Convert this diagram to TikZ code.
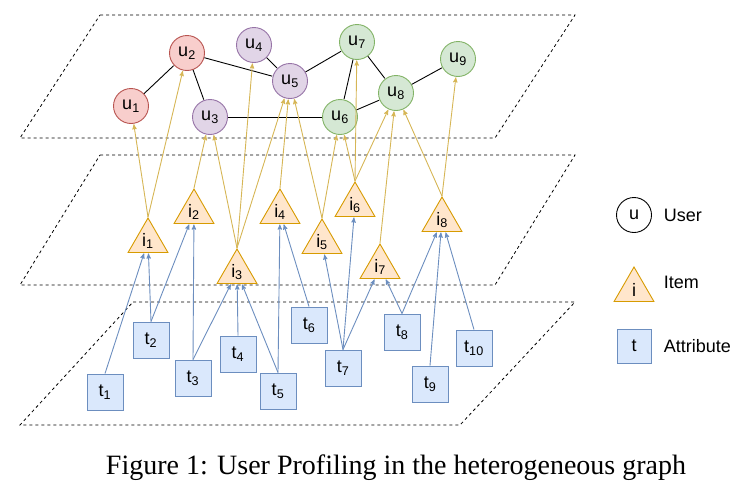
\documentclass[tikz,border=0pt]{standalone}
\usepackage{fontspec}
\setmainfont{Liberation Serif}
\newfontfamily\lblfont{Liberation Sans}
\usetikzlibrary{arrows,shapes.geometric}
\definecolor{redf}{HTML}{F8CECC}\definecolor{redd}{HTML}{B85450}
\definecolor{purf}{HTML}{E1D5E7}\definecolor{purd}{HTML}{9673A6}
\definecolor{grnf}{HTML}{D5E8D4}\definecolor{grnd}{HTML}{82B366}
\definecolor{itmf}{HTML}{FFE6CC}\definecolor{itmd}{HTML}{D79B00}
\definecolor{attf}{HTML}{DAE8FC}\definecolor{attd}{HTML}{6C8EBF}
\definecolor{ylw}{HTML}{D6B656}
\tikzset{
lbl/.style={font=\lblfont\fontsize{18}{20}\selectfont},
user/.style={lbl,shape=circle,draw,minimum size=35pt,inner sep=0pt},
item/.style={lbl,shape=regular polygon,regular polygon sides=3,draw=itmd,fill=itmf,minimum size=46pt,inner sep=0pt},
attr/.style={lbl,shape=rectangle,draw=attd,fill=attf,minimum size=36pt,inner sep=0pt},
plane/.style={dashed,thick},
}
\begin{document}
\begin{tikzpicture}
[>=stealth',x=1pt,y=-1pt,line width=0.9pt,shorten >=0.5pt]
\useasboundingbox (0,0) rectangle (744,498);
\draw[plane] (100,15) -- (575,15) -- (495,138) -- (20,138) -- cycle;
\draw[plane] (100,155) -- (575,155) -- (495,285) -- (20,285) -- cycle;
\draw[plane] (133,302) -- (575,302) -- (460,425) -- (20,425) -- cycle;

\node[user,draw=redd,fill=redf] (u1) at (131,106) {u\textsubscript{1}};
\node[user,draw=redd,fill=redf] (u2) at (187,53) {u\textsubscript{2}};
\node[user,draw=purd,fill=purf] (u3) at (210,117) {u\textsubscript{3}};
\node[user,draw=purd,fill=purf] (u4) at (254,45) {u\textsubscript{4}};
\node[user,draw=purd,fill=purf] (u5) at (290,81) {u\textsubscript{5}};
\node[user,draw=grnd,fill=grnf] (u6) at (340,117) {u\textsubscript{6}};
\node[user,draw=grnd,fill=grnf] (u7) at (357,42) {u\textsubscript{7}};
\node[user,draw=grnd,fill=grnf] (u8) at (396,93) {u\textsubscript{8}};
\node[user,draw=grnd,fill=grnf] (u9) at (458,59) {u\textsubscript{9}};

\foreach \a/\b in {u1/u2,u2/u3,u2/u5,u4/u5,u5/u7,u7/u6,u7/u8,u3/u6,u6/u8,u8/u9}
  \draw (\a) -- (\b);

\node[item] (i1) at (148,241) {i\textsubscript{1}};
\node[item] (i2) at (194,212) {i\textsubscript{2}};
\node[item] (i3) at (237,272) {i\textsubscript{3}};
\node[item] (i4) at (280,212) {i\textsubscript{4}};
\node[item] (i5) at (322,242) {i\textsubscript{5}};
\node[item] (i6) at (355,205) {i\textsubscript{6}};
\node[item] (i7) at (380,267) {i\textsubscript{7}};
\node[item] (i8) at (442,220) {i\textsubscript{8}};

\node[attr] (t1) at (105,392) {t\textsubscript{1}};
\node[attr] (t2) at (151,340) {t\textsubscript{2}};
\node[attr] (t3) at (193,378) {t\textsubscript{3}};
\node[attr] (t4) at (238,354) {t\textsubscript{4}};
\node[attr] (t5) at (278,391) {t\textsubscript{5}};
\node[attr] (t6) at (309,325) {t\textsubscript{6}};
\node[attr] (t7) at (343,368) {t\textsubscript{7}};
\node[attr] (t8) at (402,332) {t\textsubscript{8}};
\node[attr] (t9) at (430,384) {t\textsubscript{9}};
\node[attr] (t10) at (474,348) {t\textsubscript{10}};

\foreach \a/\b in {i1/u1,i1/u2,i2/u3,i3/u3,i3/u4,i3/u5,i4/u5,i5/u5,i5/u6,i6/u6,i6/u7,i6/u8,i7/u8,i8/u8,i8/u9}
  \draw[->,ylw] (\a.corner 1) -- (\b);
\foreach \a/\b in {t1/i1,t2/i1,t2/i2,t3/i2,t3/i3,t4/i3,t5/i3,t5/i4,t6/i4,t7/i5,t7/i6,t7/i7,t8/i7,t8/i8,t9/i8,t10/i8}
  \draw[->,attd] (\a.north) -- (\b);

% legend
\node[user,draw] (lu) at (634,215) {u};
\node[lbl,anchor=west] (lul) at (660,215) {User};
\node[item] (li) at (634,290) {i};
\node[lbl,anchor=west] (lil) at (660,282) {Item};
\node[attr,minimum size=34pt] (lt) at (634,346) {t};
\node[lbl,anchor=west] (ltl) at (660,346) {Attribute};

\node[font=\fontsize{28}{32}\selectfont] (cap) at (396,468) {Figure 1: User Profiling in the heterogeneous graph};
\end{tikzpicture}
\end{document}
